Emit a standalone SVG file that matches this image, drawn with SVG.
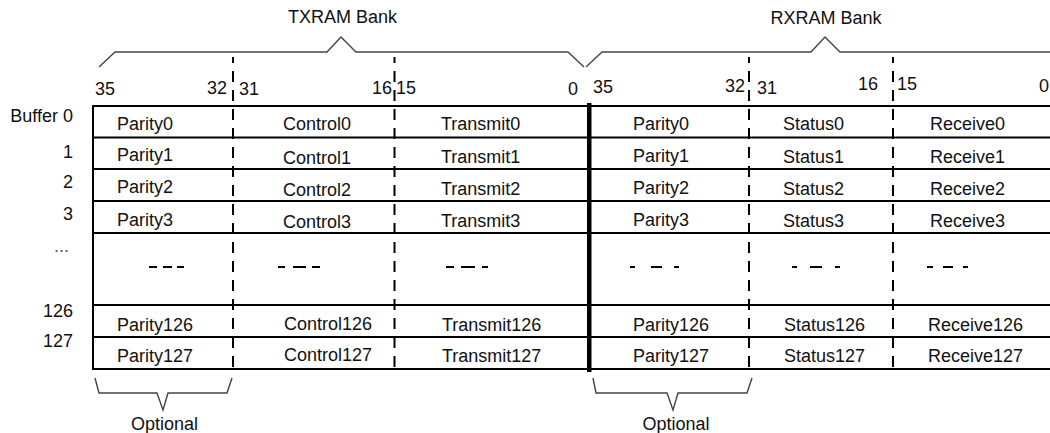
<svg xmlns="http://www.w3.org/2000/svg" width="1050" height="433" viewBox="0 0 1050 433">
<style>
text{font-family:"Liberation Sans",Arial,sans-serif;font-size:18px;fill:#111}
.r{text-anchor:end}
.m{text-anchor:middle}
.hl{stroke:#000;stroke-width:2;fill:none}
.dv{stroke:#000;stroke-width:2;stroke-dasharray:11 8;stroke-dashoffset:5;fill:none}
.br{stroke:#444;stroke-width:1.4;fill:none}
.ph{stroke:#000;stroke-width:2;fill:none}
</style>
<rect width="1050" height="433" fill="#fff"/>
<g id="braces">
<polyline class="br" points="99,67 115,52 327,52 341,37 356,52 568,52 584,67"/>
<polyline class="br" points="586,67 602,52 811,52 825,37 840,52 1052,52"/>
<polyline class="br" points="95,378 99,393 157,393 163,410 168,393 227,393 232,378"/>
<polyline class="br" points="593,378 596,393 667,393 673,410 678,393 747,393 752,378"/>
<text class="m" x="342.5" y="23">TXRAM Bank</text>
<text class="m" x="826" y="24">RXRAM Bank</text>
<text class="m" x="164.5" y="430">Optional</text>
<text class="m" x="676" y="430">Optional</text>
</g>
<g id="bit-headers">
<text x="95" y="95">35</text>
<text class="r" x="227" y="94">32</text>
<text x="239" y="95">31</text>
<text class="r" x="392" y="94">16</text>
<text x="396" y="94">15</text>
<text x="568" y="95">0</text>
<text x="593" y="93">35</text>
<text class="r" x="745" y="92">32</text>
<text x="757" y="94">31</text>
<text x="858" y="90">16</text>
<text x="897" y="90">15</text>
<text x="1039" y="92">0</text>
</g>
<g id="grid">
<line class="hl" x1="92" y1="106" x2="1050" y2="106"/>
<line class="hl" x1="93" y1="137.5" x2="1050" y2="137.5"/>
<line class="hl" x1="93" y1="169" x2="1050" y2="169"/>
<line class="hl" x1="93" y1="201" x2="1050" y2="201"/>
<line class="hl" x1="93" y1="233" x2="1050" y2="233"/>
<line class="hl" x1="93" y1="305" x2="1050" y2="305"/>
<line class="hl" x1="93" y1="337" x2="1050" y2="337"/>
<line class="hl" x1="92" y1="369" x2="1050" y2="369"/>
<line class="hl" x1="93" y1="106" x2="93" y2="370"/>
<line class="dv" x1="233" y1="57" x2="233" y2="372"/>
<line class="dv" x1="394.5" y1="57" x2="394.5" y2="372"/>
<line class="dv" x1="749" y1="57" x2="749" y2="372"/>
<line class="dv" x1="893" y1="57" x2="893" y2="372"/>
<rect x="587" y="103" width="4.5" height="269" fill="#000"/>
</g>
<g id="row-labels">
<text class="r" x="73" y="122">Buffer 0</text>
<text class="r" x="73" y="158">1</text>
<text class="r" x="73" y="188">2</text>
<text class="r" x="73" y="220">3</text>
<text class="r" x="69" y="252" style="fill:#555">...</text>
<text class="r" x="73" y="317">126</text>
<text class="r" x="73" y="347">127</text>
</g>
<g id="buffer0">
<text x="117" y="130">Parity0</text>
<text x="283" y="130">Control0</text>
<text x="441" y="130">Transmit0</text>
<text x="633" y="129.5">Parity0</text>
<text x="783" y="130">Status0</text>
<text x="930" y="130">Receive0</text>
</g>
<g id="buffer1">
<text x="117" y="161">Parity1</text>
<text x="283" y="164">Control1</text>
<text x="441" y="163">Transmit1</text>
<text x="633" y="162">Parity1</text>
<text x="783" y="163">Status1</text>
<text x="930" y="163">Receive1</text>
</g>
<g id="buffer2">
<text x="117" y="193">Parity2</text>
<text x="283" y="196">Control2</text>
<text x="441" y="195">Transmit2</text>
<text x="633" y="194">Parity2</text>
<text x="783" y="195">Status2</text>
<text x="930" y="195">Receive2</text>
</g>
<g id="buffer3">
<text x="117" y="226">Parity3</text>
<text x="283" y="228">Control3</text>
<text x="441" y="227">Transmit3</text>
<text x="633" y="226">Parity3</text>
<text x="783" y="227">Status3</text>
<text x="930" y="227">Receive3</text>
</g>
<g id="ellipsis-row">
<line class="ph" x1="149" y1="267" x2="157" y2="267"/>
<line class="ph" x1="163" y1="267" x2="172" y2="267"/>
<line class="ph" x1="177" y1="267" x2="184" y2="267"/>
<line class="ph" x1="278" y1="267" x2="285" y2="267"/>
<line class="ph" x1="293" y1="267" x2="306" y2="267"/>
<line class="ph" x1="312" y1="267" x2="320" y2="267"/>
<line class="ph" x1="446" y1="267" x2="454" y2="267"/>
<line class="ph" x1="461" y1="267" x2="475" y2="267"/>
<line class="ph" x1="482" y1="267" x2="488" y2="267"/>
<line class="ph" x1="630" y1="267" x2="635" y2="267"/>
<line class="ph" x1="651" y1="267" x2="662" y2="267"/>
<line class="ph" x1="674" y1="267" x2="679" y2="267"/>
<line class="ph" x1="792" y1="267" x2="797" y2="267"/>
<line class="ph" x1="810" y1="267" x2="822" y2="267"/>
<line class="ph" x1="835" y1="267" x2="840" y2="267"/>
<line class="ph" x1="927" y1="267" x2="933" y2="267"/>
<line class="ph" x1="943" y1="267" x2="953" y2="267"/>
<line class="ph" x1="963" y1="267" x2="968" y2="267"/>
</g>
<g id="buffer126">
<text x="117" y="331">Parity126</text>
<text x="284" y="330">Control126</text>
<text x="442" y="331">Transmit126</text>
<text x="633" y="331">Parity126</text>
<text x="784" y="331">Status126</text>
<text x="928" y="331">Receive126</text>
</g>
<g id="buffer127">
<text x="117" y="362">Parity127</text>
<text x="284" y="361">Control127</text>
<text x="442" y="362">Transmit127</text>
<text x="633" y="362">Parity127</text>
<text x="784" y="362">Status127</text>
<text x="928" y="362">Receive127</text>
</g>
</svg>
